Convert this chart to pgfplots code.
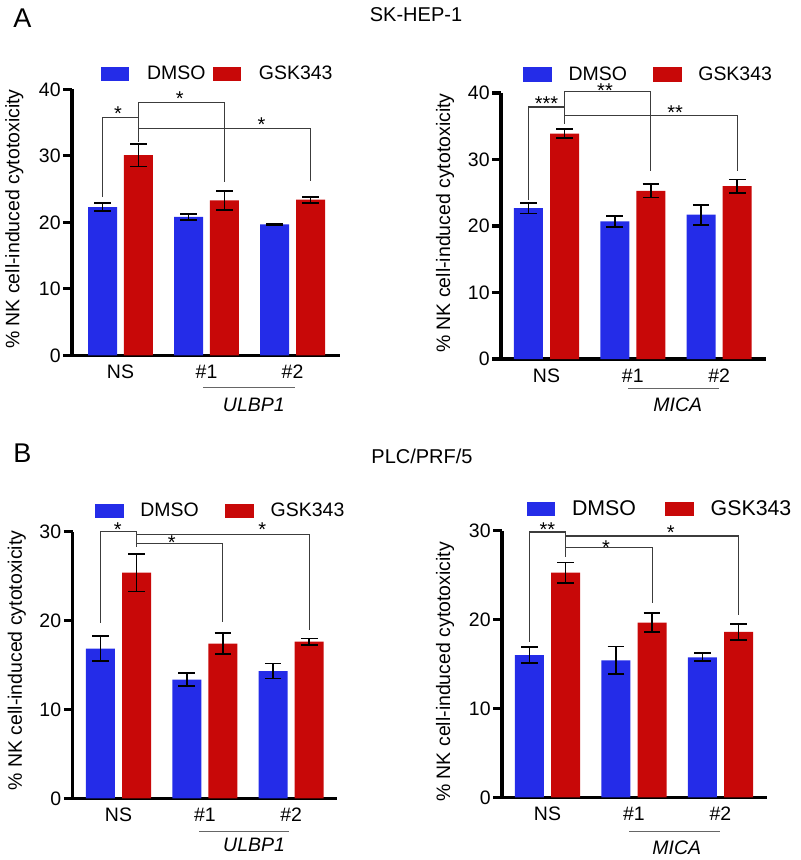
\documentclass[border=0pt]{standalone}
\usepackage{fontspec}
\setmainfont{Liberation Sans}
\usepackage{pgfplots}
\usepackage{pgfplotstable}
\pgfplotsset{compat=1.18}
\definecolor{barblue}{RGB}{36,44,232}
\definecolor{barred}{RGB}{200,8,8}
\definecolor{brk}{RGB}{60,60,60}
\newcommand{\fs}{\fontsize{14.6pt}{17pt}\selectfont}
\newcommand{\fl}{\fontsize{16pt}{19pt}\selectfont}
\newcommand{\ft}{\fontsize{15pt}{18pt}\selectfont}
\newcommand{\fA}{\fontsize{20.3pt}{24pt}\selectfont}

% SK-HEP-1, ULBP1
\pgfplotstableread{
x y e
0 22.3 0.6
1 20.8 0.4
2 19.7 0.1
}\AlD
\pgfplotstableread{
x y e
0 30.1 1.7
1 23.3 1.45
2 23.4 0.45
}\AlG
% SK-HEP-1, MICA
\pgfplotstableread{
x y e
0 22.7 0.8
1 20.7 0.8
2 21.7 1.5
}\ArD
\pgfplotstableread{
x y e
0 33.9 0.7
1 25.3 1.0
2 26.0 1.0
}\ArG
% PLC/PRF/5, ULBP1
\pgfplotstableread{
x y e
0 16.84 1.4
1 13.35 0.75
2 14.32 0.85
}\BlD
\pgfplotstableread{
x y e
0 25.38 2.1
1 17.4 1.2
2 17.62 0.35
}\BlG
% PLC/PRF/5, MICA
\pgfplotstableread{
x y e
0 16.01 0.9
1 15.41 1.55
2 15.75 0.45
}\BrD
\pgfplotstableread{
x y e
0 25.27 1.15
1 19.65 1.05
2 18.6 0.9
}\BrG

\pgfplotsset{
  panel/.style={
    scale only axis, anchor=south west, clip=false,
    axis x line=bottom, axis y line=left,
    axis line style={-, line width=2.5pt, black},
    x axis line style={-}, y axis line style={-},
    ymin=0,
    xtick={0,1,2}, xticklabels={NS,\#1,\#2},
    x tick style={draw=none},
    y tick style={line width=2.5pt, black},
    tick align=outside, major tick length=6.5pt,
    tick label style={font=\fs},
    /pgf/number format/assume math mode=true,
    xticklabel style={yshift=2.5pt},
    yticklabel style={xshift=1.5pt},
    every axis y label/.style={rotate=90, anchor=center, font=\fs},
    legend columns=2,
  },
  legbox/.style n args={4}{
    legend style={at={(axis description cs:#1,#2)}, anchor=west,
      draw=none, fill=none, inner sep=0pt, outer sep=0pt, font=\fs,
      nodes={inner sep=0pt},
      /tikz/every odd column/.append style={column sep=#3},
      /tikz/every even column/.append style={column sep=#4}},
  },
  ebar/.style={error bars/.cd, y dir=both, y explicit,
    error bar style={line width=1.3pt, black},
    error mark options={rotate=90, black, line width=1.3pt, mark size=6.25pt}},
  dbar/.style={ybar, bar width=21.75pt, bar shift=0pt, fill=barblue, draw=none,
    legend image code/.code={\fill[barblue] (0pt,-5.35pt) rectangle (21.5pt,5.35pt);},
    ebar},
  gbar/.style={ybar, bar width=21.75pt, bar shift=0pt, fill=barred, draw=none,
    legend image code/.code={\fill[barred] (0pt,-5.35pt) rectangle (21.5pt,5.35pt);},
    ebar},
}
\tikzset{
  br/.style={brk, line width=0.8pt},
  st/.style={anchor=base, inner sep=0pt, font=\ft},
  ul/.style={black!60, line width=0.8pt},
  gene/.style={anchor=center, inner sep=0pt, font=\fs\itshape},
}

\begin{document}
\begin{tikzpicture}
\useasboundingbox (0,0) rectangle (600pt,-645pt);
\node[font=\fA, anchor=center, inner sep=0pt] at (16.875pt,-13.5pt) {A};
\node[font=\ft, anchor=center, inner sep=0pt] at (312pt,-10.875pt) {SK-HEP-1};
\node[font=\fA, anchor=center, inner sep=0pt] at (16.875pt,-339.75pt) {B};
\node[font=\ft, anchor=center, inner sep=0pt] at (316.5pt,-342pt) {PLC/PRF/5};

% ---------- A left ----------
\begin{axis}[panel, at={(54pt,-266.475pt)}, width=201pt, height=199.5pt,
  xmin=-0.564, xmax=2.552, ymax=40, ytick={0,10,20,30,40},
  ylabel={\% NK cell-induced cytotoxicity},
  ylabel style={at={(axis description cs:-0.215,0.512)}},
  legbox={0.1071}{1.0575}{13.3pt}{5.25pt}]
\addplot[dbar] table[x expr=\thisrow{x}-0.209, y=y, y error=e]{\AlD};
\addlegendentry{DMSO}
\addplot[gbar] table[x expr=\thisrow{x}+0.209, y=y, y error=e]{\AlG};
\addlegendentry{GSK343}
\draw[br] (axis cs:-0.209,23.79) |- (axis cs:0.209,35.77);
\draw[br] (axis cs:0.209,32.05) |- (axis cs:1.209,38.04) -- (axis cs:1.209,26.05);
\draw[br] (axis cs:0.209,34.16) -| (axis cs:2.209,26.2);
\node[st] at (axis cs:-0.03,35.37) {*};
\node[st] at (axis cs:0.69,37.6) {*};
\node[st] at (axis cs:1.64,33.6) {*};
\draw[ul] (axis cs:0.96,-4.83) -- (axis cs:2.03,-4.83);
\node[gene] at (axis cs:1.55,-7.5) {ULBP1};
\end{axis}

% ---------- A right ----------
\begin{axis}[panel, at={(375.75pt,-269.25pt)}, width=198.5pt, height=199.5pt,
  xmin=-0.527, xmax=2.539, ymax=40, ytick={0,10,20,30,40},
  ylabel={\% NK cell-induced cytotoxicity},
  ylabel style={at={(axis description cs:-0.2116,0.511)}},
  legbox={0.0842}{1.0695}{12.5pt}{19.5pt}]
\addplot[dbar] table[x expr=\thisrow{x}-0.209, y=y, y error=e]{\ArD};
\addlegendentry{DMSO}
\addplot[gbar] table[x expr=\thisrow{x}+0.209, y=y, y error=e]{\ArG};
\addlegendentry{GSK343}
\draw[br] (axis cs:-0.209,23.97) |- (axis cs:0.209,37.9);
\draw[br] (axis cs:0.209,35.4) |- (axis cs:1.209,40.25) -- (axis cs:1.209,28.31);
\draw[br] (axis cs:0.209,36.66) -| (axis cs:2.209,28.2);
\node[st] at (axis cs:0.0,37.4) {***};
\node[st] at (axis cs:0.678,39.25) {**};
\node[st] at (axis cs:1.489,36.06) {**};
\draw[ul] (axis cs:0.948,-4.39) -- (axis cs:2.002,-4.39);
\node[gene] at (axis cs:1.52,-6.9) {MICA};
\end{axis}

% ---------- B left ----------
\begin{axis}[panel, at={(54.375pt,-598.725pt)}, width=198.6pt, height=200pt,
  xmin=-0.533, xmax=2.534, ymax=30, ytick={0,10,20,30},
  ylabel={\% NK cell-induced cytotoxicity},
  ylabel style={at={(axis description cs:-0.21,0.517)}},
  legbox={0.085}{1.0774}{12.5pt}{20pt}]
\addplot[dbar] table[x expr=\thisrow{x}-0.209, y=y, y error=e]{\BlD};
\addlegendentry{DMSO}
\addplot[gbar] table[x expr=\thisrow{x}+0.209, y=y, y error=e]{\BlG};
\addlegendentry{GSK343}
\draw[br] (axis cs:-0.209,19.76) |- (axis cs:0.209,30.0) -- (axis cs:0.209,28.3);
\draw[br] (axis cs:0.209,28.68) -| (axis cs:1.209,19.87);
\draw[br] (axis cs:0.209,29.73) -| (axis cs:2.209,18.93);
\node[st] at (axis cs:-0.01,29.4) {*};
\node[st] at (axis cs:0.616,28.0) {*};
\node[st] at (axis cs:1.666,29.4) {*};
\draw[ul] (axis cs:0.933,-3.76) -- (axis cs:1.979,-3.76);
\node[gene] at (axis cs:1.57,-5.25) {ULBP1};
\end{axis}

% ---------- B right ----------
\begin{axis}[panel, at={(376.5pt,-597.975pt)}, width=198.5pt, height=200pt,
  xmin=-0.526, xmax=2.534, ymax=30, ytick={0,10,20,30},
  ylabel={\% NK cell-induced cytotoxicity},
  ylabel style={at={(axis description cs:-0.2153,0.47)}},
  legbox={0.0933}{1.080}{12.5pt}{22pt},
  legend style={font=\fl}]
\addplot[dbar] table[x expr=\thisrow{x}-0.209, y=y, y error=e]{\BrD};
\addlegendentry{DMSO}
\addplot[gbar] table[x expr=\thisrow{x}+0.209, y=y, y error=e]{\BrG};
\addlegendentry{GSK343}
\draw[br] (axis cs:-0.209,17.5) |- (axis cs:0.209,29.85) -- (axis cs:0.209,27.07);
\draw[br] (axis cs:0.209,28.12) -| (axis cs:1.209,21.9);
\draw[br] (axis cs:0.209,29.4) -| (axis cs:2.209,20.5);
\node[st] at (axis cs:0.0,29.3) {**};
\node[st] at (axis cs:0.676,27.3) {*};
\node[st] at (axis cs:1.424,29.0) {*};
\draw[ul] (axis cs:0.946,-3.87) -- (axis cs:2.0,-3.87);
\node[gene] at (axis cs:1.494,-5.67) {MICA};
\end{axis}
\end{tikzpicture}
\end{document}
